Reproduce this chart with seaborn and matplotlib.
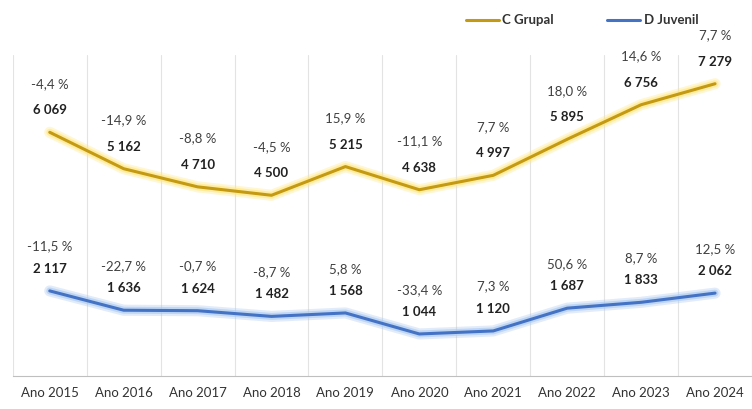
import matplotlib.pyplot as plt
import pandas as pd
import seaborn as sns

# Data
years = ["Ano 2015", "Ano 2016", "Ano 2017", "Ano 2018", "Ano 2019",
         "Ano 2020", "Ano 2021", "Ano 2022", "Ano 2023", "Ano 2024"]
grupal = [6069, 5162, 4710, 4500, 5215, 4638, 4997, 5895, 6756, 7279]
grupal_pct = ["-4,4 %", "-14,9 %", "-8,8 %", "-4,5 %", "15,9 %",
              "-11,1 %", "7,7 %", "18,0 %", "14,6 %", "7,7 %"]
juvenil = [2117, 1636, 1624, 1482, 1568, 1044, 1120, 1687, 1833, 2062]
juvenil_pct = ["-11,5 %", "-22,7 %", "-0,7 %", "-8,7 %", "5,8 %",
               "-33,4 %", "7,3 %", "50,6 %", "8,7 %", "12,5 %"]

df = pd.DataFrame({"year": years, "C Grupal": grupal, "D Juvenil": juvenil})
df["pos"] = range(len(df))
df_long = df.melt(id_vars=["year", "pos"], var_name="serie", value_name="value")

sns.set_style("white")
plt.rcParams["font.family"] = ["Lato", "DejaVu Sans"]

colors = {"C Grupal": "#C49A12", "D Juvenil": "#4472C4"}
glows = {"C Grupal": "#FFE680", "D Juvenil": "#A9C8F0"}

fig, ax = plt.subplots(figsize=(7.52, 4.09), dpi=100)
fig.subplots_adjust(left=0.017, right=1.0, bottom=0.081, top=0.866)

# soft glow under the lines
for name in ["C Grupal", "D Juvenil"]:
    sns.lineplot(data=df, x="pos", y=name, ax=ax, color=glows[name],
                 linewidth=8, alpha=0.35, legend=False)
    sns.lineplot(data=df, x="pos", y=name, ax=ax, color=glows[name],
                 linewidth=5, alpha=0.6, legend=False)
sns.lineplot(data=df_long, x="pos", y="value", hue="serie", palette=colors,
             linewidth=2.2, ax=ax)

# labels
for i in range(len(years)):
    ax.annotate(f"{grupal[i]:,}".replace(",", " "), (i, grupal[i]),
                xytext=(0, 13), textcoords="offset points", ha="center",
                fontsize=9.5, fontweight="bold", color="#222222")
    ax.annotate(grupal_pct[i], (i, grupal[i]), xytext=(0, 32),
                textcoords="offset points", ha="center", fontsize=9.5,
                color="#404040")
    ax.annotate(f"{juvenil[i]:,}".replace(",", " "), (i, juvenil[i]),
                xytext=(0, 13), textcoords="offset points", ha="center",
                fontsize=9.5, fontweight="bold", color="#222222")
    ax.annotate(juvenil_pct[i], (i, juvenil[i]), xytext=(0, 29),
                textcoords="offset points", ha="center", fontsize=9.5,
                color="#404040")

ax.set_xlim(-0.5, len(years) - 0.5)
ax.set_ylim(0, 8000)
ax.set_xticks(range(len(years)))
ax.set_xticklabels(years, fontsize=9.5, color="#333333")
ax.set_xticks([i - 0.5 for i in range(len(years) + 1)], minor=True)
ax.tick_params(axis="x", which="major", length=0, pad=8)
ax.tick_params(axis="x", which="minor", length=5, color="#BFBFBF")
ax.grid(True, axis="x", which="minor", color="#E3E3E3", linewidth=0.8)
ax.set_yticks([])
ax.set_xlabel("")
ax.set_ylabel("")
for side in ["top", "left", "right"]:
    ax.spines[side].set_visible(False)
ax.spines["bottom"].set_color("#BFBFBF")

leg = ax.legend(loc="center", bbox_to_anchor=(0.77, 1.108), ncol=2,
                frameon=False, fontsize=9.5, handlelength=2.5,
                columnspacing=4, handletextpad=0.3)
for t in leg.get_texts():
    t.set_fontweight("bold")
    t.set_color("#333333")

fig.savefig("out.png", dpi=100)
